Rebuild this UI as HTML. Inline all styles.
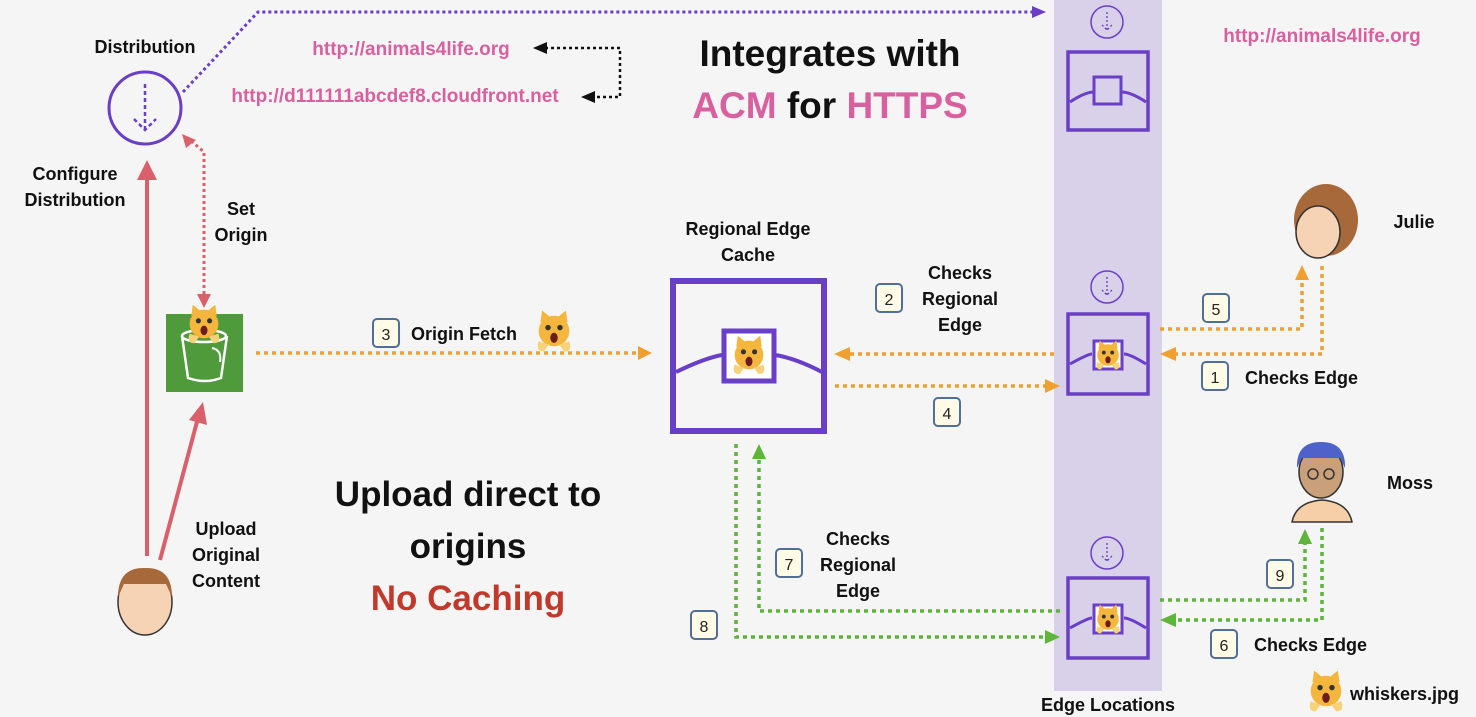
<!DOCTYPE html>
<html><head><meta charset="utf-8"><style>
html,body{margin:0;padding:0;background:#f5f5f5;}
svg{display:block;}
text{font-family:"Liberation Sans",sans-serif;font-weight:bold;}
</style></head><body>
<svg width="1476" height="717" viewBox="0 0 1476 717" xmlns="http://www.w3.org/2000/svg">
<defs>
<g id="cat">
 <circle cx="0" cy="0" r="9" fill="#f4b63c"/>
 <path d="M-8,-5 L-7,-12 L-2,-8 Z M8,-5 L7,-12 L2,-8 Z" fill="#f4b63c"/>
 <path d="M-9,6 Q-11,12 -6,12 L-3,8 Z M9,6 Q11,12 6,12 L3,8 Z" fill="#f7d27a"/>
 <circle cx="-3.5" cy="-2" r="1.6" fill="#333"/><circle cx="3.5" cy="-2" r="1.6" fill="#333"/>
 <ellipse cx="0" cy="4" rx="2.2" ry="3" fill="#6b1d1d"/>
</g>
<g id="badge">
 <rect x="-13" y="-14" width="26" height="28" rx="4" fill="#fffbe6" stroke="#4f6f99" stroke-width="2"/>
</g>
<g id="edgebox">
 <rect x="0" y="0" width="80" height="80" fill="none" stroke="#6a3fc8" stroke-width="3.5"/>
 <path d="M2,50 Q20,40 24,40 M56,40 Q62,40 78,50" fill="none" stroke="#6a3fc8" stroke-width="3"/>
 <rect x="26" y="27" width="28" height="28" fill="#fff" stroke="#6a3fc8" stroke-width="3"/>
</g>
<g id="dl">
 <circle cx="0" cy="0" r="16" fill="none" stroke="#6a3fc8" stroke-width="1.5"/>
 <path d="M0,-10 V8 M-5,3 L0,8 L5,3" fill="none" stroke="#6a3fc8" stroke-width="1.3" stroke-dasharray="2,2"/>
</g>
</defs>

<rect x="1054" y="0" width="108" height="691" fill="#d9d0ea"/>
<use href="#dl" x="1107" y="22"/>
<rect x="1068" y="52" width="80" height="78" fill="none" stroke="#6a3fc8" stroke-width="3.5"/>
<path d="M1070,102 Q1085,92 1094,92 M1121,92 Q1131,92 1146,102" fill="none" stroke="#6a3fc8" stroke-width="3"/>
<rect x="1094" y="77" width="27" height="27" fill="none" stroke="#6a3fc8" stroke-width="3"/>
<use href="#dl" x="1107" y="287"/>
<use href="#edgebox" x="1068" y="314"/>
<use href="#cat" transform="translate(1108,355) scale(1.2)"/>
<use href="#dl" x="1107" y="553"/>
<use href="#edgebox" x="1068" y="578"/>
<use href="#cat" transform="translate(1108,619) scale(1.2)"/>
<text x="1108" y="711" font-size="18" text-anchor="middle" fill="#111">Edge Locations</text>

<path d="M183,92 L258,12 L1040,12" fill="none" stroke="#6a3fc8" stroke-width="3" stroke-dasharray="3,3"/>
<path d="M1032,6 L1046,12 L1032,18 Z" fill="#6a3fc8"/>
<path d="M545,48 L620,48 L620,97 L595,97" fill="none" stroke="#111" stroke-width="2.5" stroke-dasharray="3,3"/>
<path d="M547,42 L533,48 L547,54 Z M595,91 L581,97 L595,103 Z" fill="#111"/>

<text x="411" y="55" font-size="19" text-anchor="middle" fill="#d9609f">http://animals4life.org</text>
<text x="395" y="102" font-size="19" text-anchor="middle" fill="#d9609f">http://d111111abcdef8.cloudfront.net</text>
<text x="1322" y="42" font-size="19" text-anchor="middle" fill="#d9609f">http://animals4life.org</text>
<text x="830" y="66" font-size="37" text-anchor="middle" fill="#111">Integrates with</text>
<text x="830" y="118" font-size="37" text-anchor="middle" fill="#111"><tspan fill="#d9609f">ACM</tspan> for <tspan fill="#d9609f">HTTPS</tspan></text>

<text x="145" y="53" font-size="18" text-anchor="middle" fill="#111">Distribution</text>
<circle cx="145" cy="108" r="36" fill="none" stroke="#6a3fc8" stroke-width="3"/>
<path d="M145,84 V130 M134,119 L145,130 L156,119" fill="none" stroke="#6a3fc8" stroke-width="2.5" stroke-dasharray="4,3"/>
<text x="75" y="180" font-size="18" text-anchor="middle" fill="#111">Configure</text>
<text x="75" y="206" font-size="18" text-anchor="middle" fill="#111">Distribution</text>
<text x="241" y="215" font-size="18" text-anchor="middle" fill="#111">Set</text>
<text x="241" y="241" font-size="18" text-anchor="middle" fill="#111">Origin</text>
<path d="M204,294 L204,152 L190,140" fill="none" stroke="#d9606b" stroke-width="3" stroke-dasharray="3,3"/>
<path d="M197,294 L204,308 L211,294 Z M182,134 L186,148 L196,140 Z" fill="#d9606b"/>
<path d="M147,556 L147,178" stroke="#d9606b" stroke-width="4"/>
<path d="M137,180 L147,160 L157,180 Z" fill="#d9606b"/>
<path d="M160,560 L198,418" stroke="#d9606b" stroke-width="4"/>
<path d="M189,420 L203,402 L207,425 Z" fill="#d9606b"/>

<rect x="166" y="314" width="77" height="78" fill="#4f9a3a"/>
<path d="M182,336 L188,378 Q205,384 221,378 L227,336" fill="none" stroke="#fff" stroke-width="2.5"/>
<ellipse cx="204" cy="336" rx="22" ry="6" fill="none" stroke="#fff" stroke-width="2.5"/>
<path d="M212,348 Q222,350 220,362" fill="none" stroke="#fff" stroke-width="2"/>
<use href="#cat" transform="translate(204,324) scale(1.6)"/>

<path d="M256,353 L640,353" stroke="#f0a030" stroke-width="3.5" stroke-dasharray="4,4"/>
<path d="M638,346 L652,353 L638,360 Z" fill="#f0a030"/>
<use href="#badge" x="386" y="333"/><text x="386" y="340" font-size="16" text-anchor="middle" fill="#222" style="font-weight:normal">3</text>
<text x="411" y="340" font-size="18" fill="#111">Origin Fetch</text>
<use href="#cat" transform="translate(554,331) scale(1.7)"/>

<text x="748" y="235" font-size="18" text-anchor="middle" fill="#111">Regional Edge</text>
<text x="748" y="261" font-size="18" text-anchor="middle" fill="#111">Cache</text>
<rect x="673" y="281" width="151" height="150" fill="none" stroke="#6a3fc8" stroke-width="6"/>
<path d="M676,372 Q705,358 722,355 M775,355 Q795,358 822,372" fill="none" stroke="#6a3fc8" stroke-width="4"/>
<rect x="724" y="331" width="50" height="50" fill="#fff" stroke="#6a3fc8" stroke-width="5"/>
<use href="#cat" transform="translate(749,355) scale(1.6)"/>

<path d="M1054,354 L848,354" stroke="#f0a030" stroke-width="3.5" stroke-dasharray="4,4"/>
<path d="M850,347 L834,354 L850,361 Z" fill="#f0a030"/>
<path d="M835,386 L1046,386" stroke="#f0a030" stroke-width="3.5" stroke-dasharray="4,4"/>
<path d="M1045,379 L1060,386 L1045,393 Z" fill="#f0a030"/>
<use href="#badge" x="889" y="298"/><text x="889" y="305" font-size="16" text-anchor="middle" fill="#222" style="font-weight:normal">2</text>
<text x="960" y="279" font-size="18" text-anchor="middle" fill="#111">Checks</text>
<text x="960" y="305" font-size="18" text-anchor="middle" fill="#111">Regional</text>
<text x="960" y="331" font-size="18" text-anchor="middle" fill="#111">Edge</text>
<use href="#badge" x="947" y="412"/><text x="947" y="419" font-size="16" text-anchor="middle" fill="#222" style="font-weight:normal">4</text>

<path d="M1160,329 L1302,329 L1302,278" fill="none" stroke="#f0a030" stroke-width="3.5" stroke-dasharray="4,4"/>
<path d="M1295,280 L1302,265 L1309,280 Z" fill="#f0a030"/>
<path d="M1322,266 L1322,354 L1175,354" fill="none" stroke="#f0a030" stroke-width="3.5" stroke-dasharray="4,4"/>
<path d="M1176,347 L1160,354 L1176,361 Z" fill="#f0a030"/>
<use href="#badge" x="1216" y="308"/><text x="1216" y="315" font-size="16" text-anchor="middle" fill="#222" style="font-weight:normal">5</text>
<use href="#badge" x="1215" y="376"/><text x="1215" y="383" font-size="16" text-anchor="middle" fill="#222" style="font-weight:normal">1</text>
<text x="1245" y="384" font-size="18" fill="#111">Checks Edge</text>
<ellipse cx="1326" cy="220" rx="32" ry="36" fill="#a7683a"/>
<ellipse cx="1318" cy="232" rx="22" ry="26" fill="#f6d3b5" stroke="#333" stroke-width="1.5"/>
<text x="1414" y="228" font-size="18" text-anchor="middle" fill="#111">Julie</text>

<path d="M1160,600 L1305,600 L1305,543" fill="none" stroke="#5db53a" stroke-width="3.5" stroke-dasharray="4,4"/>
<path d="M1298,544 L1305,529 L1312,544 Z" fill="#5db53a"/>
<path d="M1322,528 L1322,620 L1175,620" fill="none" stroke="#5db53a" stroke-width="3.5" stroke-dasharray="4,4"/>
<path d="M1176,613 L1160,620 L1176,627 Z" fill="#5db53a"/>
<use href="#badge" x="1280" y="574"/><text x="1280" y="581" font-size="16" text-anchor="middle" fill="#222" style="font-weight:normal">9</text>
<use href="#badge" x="1224" y="644"/><text x="1224" y="651" font-size="16" text-anchor="middle" fill="#222" style="font-weight:normal">6</text>
<text x="1254" y="651" font-size="18" fill="#111">Checks Edge</text>
<path d="M1292,522 Q1296,502 1322,500 Q1348,502 1352,522 Z" fill="#f6cfa8" stroke="#333" stroke-width="1.5"/>
<ellipse cx="1321" cy="472" rx="22" ry="26" fill="#c9a07a" stroke="#333" stroke-width="1.5"/>
<path d="M1297,468 Q1296,442 1321,442 Q1346,442 1345,468 L1340,458 L1302,458 Z" fill="#4f62c9"/>
<circle cx="1313" cy="474" r="5" fill="none" stroke="#333" stroke-width="1.5"/><circle cx="1329" cy="474" r="5" fill="none" stroke="#333" stroke-width="1.5"/>
<text x="1410" y="489" font-size="18" text-anchor="middle" fill="#111">Moss</text>

<path d="M1060,611 L759,611 L759,458" fill="none" stroke="#5db53a" stroke-width="3.5" stroke-dasharray="4,4"/>
<path d="M752,459 L759,444 L766,459 Z" fill="#5db53a"/>
<path d="M736,444 L736,637 L1046,637" fill="none" stroke="#5db53a" stroke-width="3.5" stroke-dasharray="4,4"/>
<path d="M1045,630 L1060,637 L1045,644 Z" fill="#5db53a"/>
<use href="#badge" x="789" y="563"/><text x="789" y="570" font-size="16" text-anchor="middle" fill="#222" style="font-weight:normal">7</text>
<text x="858" y="545" font-size="18" text-anchor="middle" fill="#111">Checks</text>
<text x="858" y="571" font-size="18" text-anchor="middle" fill="#111">Regional</text>
<text x="858" y="597" font-size="18" text-anchor="middle" fill="#111">Edge</text>
<use href="#badge" x="704" y="625"/><text x="704" y="632" font-size="16" text-anchor="middle" fill="#222" style="font-weight:normal">8</text>

<text x="468" y="506" font-size="35" text-anchor="middle" fill="#111">Upload direct to</text>
<text x="468" y="558" font-size="35" text-anchor="middle" fill="#111">origins</text>
<text x="468" y="610" font-size="35" text-anchor="middle" fill="#c0392b">No Caching</text>
<text x="226" y="535" font-size="18" text-anchor="middle" fill="#111">Upload</text>
<text x="226" y="561" font-size="18" text-anchor="middle" fill="#111">Original</text>
<text x="226" y="587" font-size="18" text-anchor="middle" fill="#111">Content</text>
<ellipse cx="145" cy="602" rx="27" ry="33" fill="#f6d3b5" stroke="#333" stroke-width="1.5"/>
<path d="M118,597 Q118,567 145,568 Q172,567 172,597 L166,584 L124,584 Z" fill="#a7683a"/>

<use href="#cat" transform="translate(1326,691) scale(1.7)"/>
<text x="1350" y="700" font-size="18" fill="#111">whiskers.jpg</text>
</svg>
</body></html>
